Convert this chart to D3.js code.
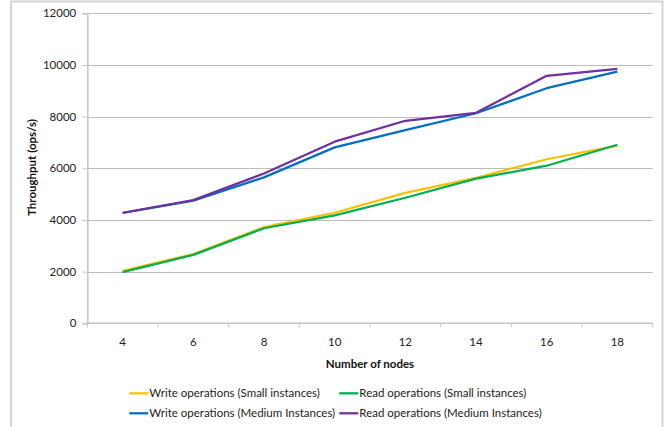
<!DOCTYPE html>
<html><head><meta charset="utf-8">
<script src="https://cdn.jsdelivr.net/npm/d3@7"></script>
<style>
html,body{margin:0;padding:0;background:#fff;}
svg{display:block;font-family:Lato, "Open Sans", sans-serif;}
</style></head>
<body>
<svg id="chart" width="668" height="427"></svg>
<script>
const nodes = [4, 6, 8, 10, 12, 14, 16, 18];
const writeSmall = [2030, 2680, 3720, 4280, 5050, 5630, 6350, 6880];
const readSmall = [1980, 2650, 3680, 4180, 4860, 5600, 6100, 6910];
const writeMedium = [4270, 4750, 5650, 6810, 7480, 8130, 9100, 9740];
const readMedium = [4280, 4770, 5800, 7030, 7840, 8150, 9580, 9850];
const seriesNames = ["Write operations (Small instances)", "Read operations (Small instances)",
  "Write operations (Medium Instances)", "Read operations (Medium Instances)"];
const seriesColors = ["#FFC000", "#00B050", "#0070C0", "#7030A0"];
const yTicks = [0, 2000, 4000, 6000, 8000, 10000, 12000];

const series = [writeSmall, readSmall, writeMedium, readMedium];
const svg = d3.select("#chart");

// outer border
svg.append("rect").attr("x", 11).attr("y", 1.5).attr("width", 651.5).attr("height", 440)
  .attr("fill", "none").attr("stroke", "#d4d4d4").attr("stroke-width", 2);

const x = d3.scaleBand().domain(nodes).range([87.3, 652.7]);
const y = d3.scaleLinear().domain([0, 12000]).range([323.3, 13.3]);

// gridlines
svg.append("g").selectAll("line").data(yTicks.filter(d => d > 0)).join("line")
  .attr("x1", 87.3).attr("x2", 652.7)
  .attr("y1", d => Math.round(y(d)) + 0.5).attr("y2", d => Math.round(y(d)) + 0.5)
  .attr("stroke", "#bcbcbc").attr("stroke-width", 1.2);

// y axis
const yAxis = d3.axisLeft(y).tickValues(yTicks).tickSize(5).tickPadding(6).tickFormat(d3.format("d"));
const gy = svg.append("g").attr("transform", "translate(87.3,0)").call(yAxis);
gy.select(".domain").attr("stroke", "#c4c4c4").attr("stroke-width", 1.5);
gy.selectAll(".tick line").attr("stroke", "#c4c4c4");
gy.selectAll(".tick text").attr("font-family", "Lato, sans-serif").attr("font-size", 11.5).attr("fill", "#222");

// x axis
const gx = svg.append("g").attr("transform", "translate(0,323.3)");
gx.append("line").attr("x1", 87.3).attr("x2", 652.7).attr("stroke", "#c4c4c4").attr("stroke-width", 1.5);
const bounds = nodes.map(n => x(n)).concat([x(nodes[nodes.length - 1]) + x.bandwidth()]);
gx.selectAll("line.tk").data(bounds).join("line").attr("class", "tk")
  .attr("x1", d => d).attr("x2", d => d).attr("y1", 0).attr("y2", 4)
  .attr("stroke", "#c4c4c4");
gx.selectAll("text").data(nodes).join("text")
  .attr("x", d => x(d) + x.bandwidth() / 2).attr("y", 23)
  .attr("text-anchor", "middle").attr("font-size", 11.5).attr("fill", "#222")
  .text(d => d);

// titles
svg.append("text").attr("x", 370).attr("y", 368).attr("text-anchor", "middle")
  .attr("font-size", 11.5).attr("font-weight", "bold").attr("fill", "#111").text("Number of nodes");
svg.append("text").attr("transform", "translate(36,167.5) rotate(-90)").attr("text-anchor", "middle")
  .attr("font-size", 11.5).attr("font-weight", "bold").attr("fill", "#111").text("Throughput (ops/s)");

// lines
const line = d3.line().x((d, i) => x(nodes[i]) + x.bandwidth() / 2).y(d => y(d));
svg.append("g").selectAll("path").data(series).join("path")
  .attr("d", line).attr("fill", "none")
  .attr("stroke", (d, i) => seriesColors[i]).attr("stroke-width", 2.25)
  .attr("stroke-linejoin", "round");

// legend
const legPos = [[129.3, 393.3], [339.3, 393.3], [129.3, 413.3], [339.3, 413.3]];
const lg = svg.append("g").selectAll("g").data(seriesNames).join("g")
  .attr("transform", (d, i) => `translate(${legPos[i][0]},${legPos[i][1]})`);
lg.append("line").attr("x1", 0).attr("x2", 19).attr("stroke", (d, i) => seriesColors[i]).attr("stroke-width", 2.25);
lg.append("text").attr("x", 20).attr("y", 4).attr("font-size", 11.5).attr("fill", "#222").text(d => d);
</script>
</body></html>
